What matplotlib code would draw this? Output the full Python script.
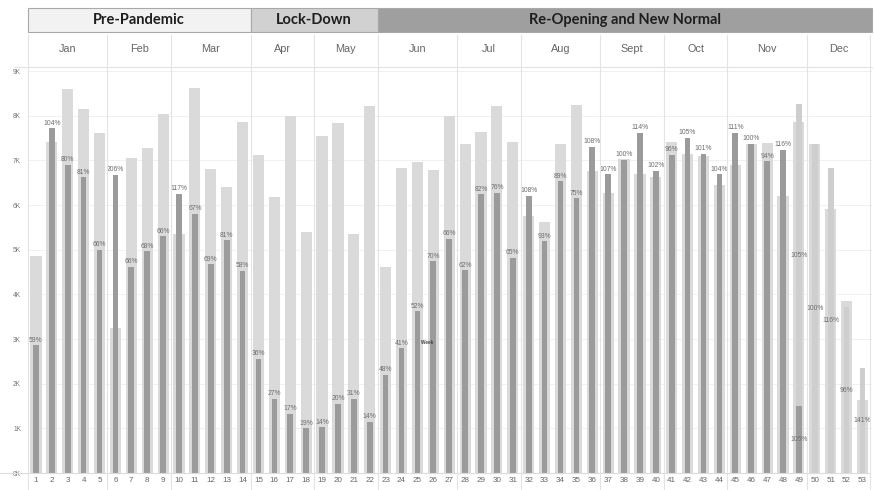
import matplotlib
matplotlib.use("Agg")
import matplotlib.pyplot as plt
from matplotlib import transforms
from matplotlib.patches import Rectangle
from matplotlib.lines import Line2D

# Weekly volume (thousands): prior year vs. current year
weeks = list(range(1, 54))
prior_year = [4.85, 7.42, 8.60, 8.16, 7.62, 3.24, 7.05, 7.27, 8.04, 5.34,
              8.63, 6.81, 6.41, 7.86, 7.12, 6.19, 8.00, 5.39, 7.54, 7.83,
              5.35, 8.21, 4.61, 6.83, 6.96, 6.78, 8.00, 7.36, 7.64, 8.21,
              7.41, 5.76, 5.61, 7.36, 8.25, 6.76, 6.26, 7.04, 6.69, 6.62,
              7.40, 7.14, 7.09, 6.44, 6.89, 7.37, 7.39, 6.21, 7.86, 7.37,
              5.91, 3.85, 1.64]
actual = [2.86, 7.72, 6.90, 6.62, 5.00, 6.68, 4.62, 4.96, 5.30, 6.25,
          5.80, 4.67, 5.21, 4.53, 2.56, 1.66, 1.33, 1.00, 1.02, 1.55,
          1.66, 1.15, 2.20, 2.79, 3.62, 4.74, 5.25, 4.54, 6.24, 6.27,
          4.82, 6.20, 5.19, 6.53, 6.15, 7.30, 6.69, 7.01, 7.62, 6.77,
          7.12, 7.51, 7.15, 6.69, 7.62, 7.37, 6.98, 7.23, 1.49, 0.0,
          0.0, 0.0, 0.0]
forecast = [0.0] * 48 + [6.77, 7.37, 6.83, 3.71, 2.35]
pct_labels = ["59%", "104%", "80%", "81%", "66%", "206%", "66%", "68%", "66%", "117%",
              "67%", "69%", "81%", "58%", "36%", "27%", "17%", "19%", "14%", "20%",
              "31%", "14%", "48%", "41%", "52%", "70%", "66%", "62%", "82%", "76%",
              "65%", "108%", "93%", "89%", "75%", "108%", "107%", "100%", "114%", "102%",
              "96%", "105%", "101%", "104%", "111%", "100%", "94%", "116%", "105%", "100%",
              "116%", "96%", "141%"]
y_ticks = list(range(10))
y_tick_labels = [f"{k}K" for k in y_ticks]

months = ["Jan", "Feb", "Mar", "Apr", "May", "Jun",
          "Jul", "Aug", "Sept", "Oct", "Nov", "Dec"]
month_weeks = [5, 4, 5, 4, 4, 5, 4, 5, 4, 4, 5, 4]
phases = ["Pre-Pandemic", "Lock-Down", "Re-Opening and New Normal"]
phase_months = [3, 2, 7]
phase_fill = ["#f2f2f2", "#d1d1d1", "#9f9f9f"]

W, H = 874, 490
fig = plt.figure(figsize=(W / 100, H / 100), dpi=100)
fig.patch.set_facecolor("white")

def fy(px):
    """Figure fraction for a pixel row measured from the top."""
    return 1 - px / H

ax = fig.add_axes([28 / W, 17 / H, 844 / W, 406 / H])
ax.set_xlim(0.5, 53.6)
ax.set_ylim(0, 9.09)

ax.bar(weeks, prior_year, width=0.7, color="#dadada", zorder=2)
ax.bar(weeks, actual, width=0.36, color="#9b9b9b", zorder=3)
ax.bar(weeks, forecast, bottom=actual, width=0.36, color="#cecece", zorder=3)

lab_font = dict(family="Liberation Sans", size=4.9, color="#6e6e6e")
for w, a, f, t in zip(weeks, actual, forecast, pct_labels):
    if f > 0:
        ax.text(w, a + f / 2, t, ha="center", va="center", zorder=5, **lab_font)
        if a > 0:
            ax.text(w, a / 2, t, ha="center", va="center", zorder=5, **lab_font)
    else:
        ax.annotate(t, (w, a), xytext=(0, 1.2), textcoords="offset points",
                    ha="center", va="bottom", zorder=5, **lab_font)

ax.text(25.6, 2.93, "Week", ha="center", va="center", fontsize=3.4,
        fontweight="bold", color="#444444", family="Liberation Sans", zorder=5)

ax.set_yticks(y_ticks)
ax.set_yticklabels(y_tick_labels)
ax.set_xticks(weeks)
ax.set_xticklabels([str(w) for w in weeks])
ax.tick_params(axis="y", length=0, pad=5, labelsize=4.8, labelcolor="#777777")
ax.tick_params(axis="x", length=0, pad=3, labelsize=5.8, labelcolor="#666666")
for lbl in ax.get_xticklabels() + ax.get_yticklabels():
    lbl.set_family("Liberation Sans")
for s in ax.spines.values():
    s.set_visible(False)
ax.set_axisbelow(True)
ax.yaxis.grid(True, color="#f1f1f1", lw=0.7, zorder=0)

trans = transforms.blended_transform_factory(ax.transData, fig.transFigure)

# horizontal rules: under month row and along zero
fig.add_artist(Line2D([14 / W, 872 / W], [fy(67), fy(67)], color="#e3e3e3", lw=0.8))
fig.add_artist(Line2D([0, 870 / W], [fy(473), fy(473)], color="#dcdcdc", lw=0.8))

# month separators and labels
bounds = [0.5]
for n in month_weeks:
    bounds.append(bounds[-1] + n)
for b in bounds:
    fig.add_artist(Line2D([b, b], [fy(35), 0], transform=trans,
                          color="#e3e3e3", lw=0.8))
for m, b0, b1 in zip(months, bounds[:-1], bounds[1:]):
    fig.text((b0 + b1) / 2, fy(49), m, transform=trans, ha="center", va="center",
             fontsize=7.8, color="#666666", family="Liberation Sans")

# phase header boxes
start = 0
for name, n, col in zip(phases, phase_months, phase_fill):
    x0 = bounds[start]
    x1 = bounds[start + n] if start + n < len(bounds) - 1 else ax.get_xlim()[1]
    fig.add_artist(Rectangle((x0, fy(32)), x1 - x0, fy(8) - fy(32), transform=trans,
                             facecolor=col, edgecolor="#a8a8a8", lw=0.8))
    fig.text((x0 + x1) / 2, fy(20), name, transform=trans, ha="center", va="center",
             fontsize=10.5, fontweight="bold", color="#1e1e1e", family="Lato")
    start += n

fig.savefig("out.png", dpi=100)
